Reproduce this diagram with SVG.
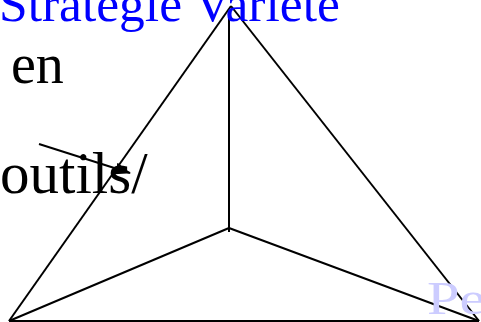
<svg xmlns="http://www.w3.org/2000/svg" width="481" height="322" viewBox="0 0 481 322">
<style>
.ln{stroke:#000;stroke-width:2;fill:none}
.blk{font-family:"Liberation Serif",serif;fill:#000}
</style>
<defs>
<marker id="ah" markerWidth="8" markerHeight="6" refX="7.5" refY="3" orient="auto" markerUnits="strokeWidth"><path d="M0,0 L8,3 L0,6 Z" fill="#000"/></marker>
</defs>
<rect width="481" height="322" fill="#fff"/>
<g id="connectors">
<line class="ln" x1="9" y1="321" x2="231" y2="6"/>
<line class="ln" x1="231" y1="6" x2="479" y2="321"/>
<line class="ln" x1="9" y1="321" x2="479" y2="321"/>
<line class="ln" x1="229" y1="15" x2="229" y2="232"/>
<line class="ln" x1="9" y1="321" x2="229" y2="228"/>
<line class="ln" x1="229" y1="228" x2="479" y2="321"/>
<line class="ln" x1="39" y1="144" x2="130" y2="173" marker-end="url(#ah)"/>
<circle cx="82" cy="157" r="1.8" fill="#000"/>
</g>
<g id="title"><text x="-1" y="21" font-family="Liberation Serif,serif" font-size="51.5" fill="#0000ff">Stratégie Variété</text></g>
<g id="label-en"><text class="blk" x="11" y="83" font-size="56">en</text></g>
<g id="label-outils"><text class="blk" x="0" y="193" font-size="59">outils/</text></g>
<g id="label-pe"><text transform="translate(427,314) scale(1.3,1.05)" x="0" y="0" font-family="Liberation Serif,serif" font-size="45" fill="#ccccff">Pe</text></g>
</svg>
